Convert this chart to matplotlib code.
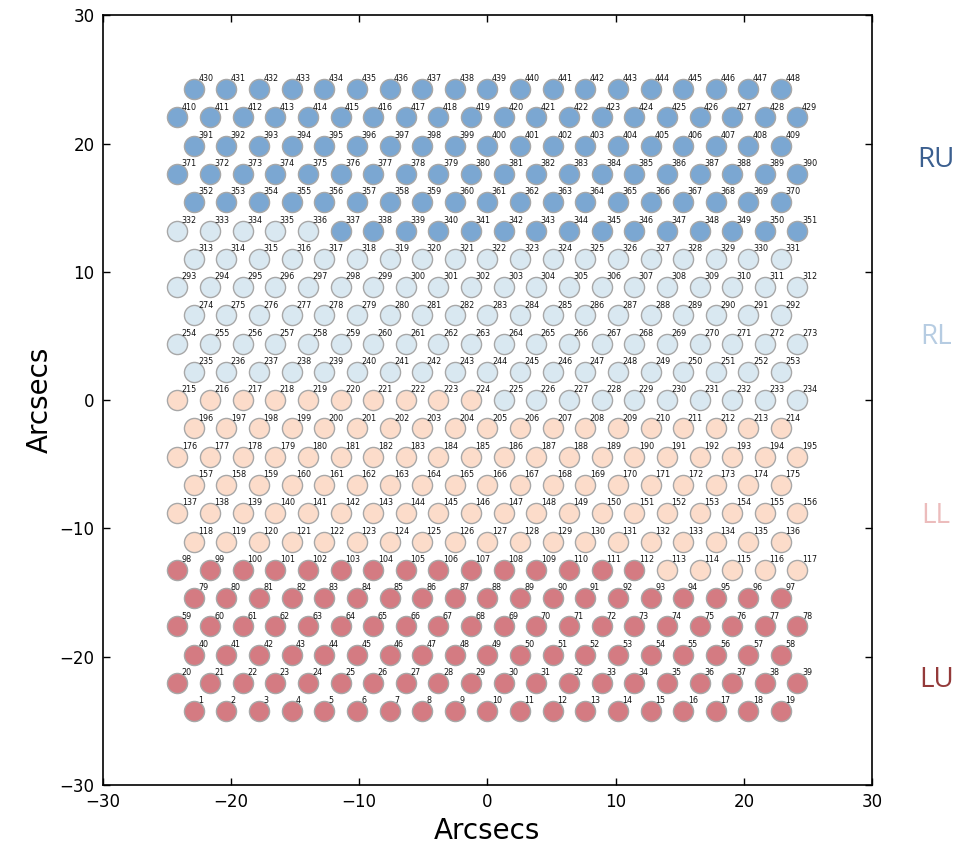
import matplotlib
matplotlib.use("Agg")
import matplotlib.pyplot as plt
import numpy as np

# fibre bundle layout: 23 rows, alternating 19 / 20 fibres, numbered from the bottom
row_counts = [19, 20] * 11 + [19]
pitch = 2.545  # arcsec between neighbouring fibres

# quadrant groups: (name, first fibre, last fibre, face colour, label colour, label y)
group_names = ["LU", "LL", "RL", "RU"]
group_first = [1, 113, 225, 337]
group_last = [112, 224, 336, 448]
group_face = ["#d47b82", "#fcdcca", "#d9e8f1", "#7ba7d2"]
group_label_color = ["#943a3a", "#ecbcbc", "#b6cce2", "#3b5f8f"]
group_label_y = [-21.8, -9.0, 4.9, 18.7]

# positions of every fibre
xs, ys = [], []
row_dy = pitch * np.sqrt(3) / 2
n_rows = len(row_counts)
for r, n in enumerate(row_counts):
    y = (r - (n_rows - 1) / 2) * row_dy
    for i in range(n):
        xs.append((i - (n - 1) / 2) * pitch)
        ys.append(y)
xs = np.array(xs)
ys = np.array(ys)
fibre_id = np.arange(1, len(xs) + 1)

fig = plt.figure(figsize=(9.69, 8.51), dpi=100)
ax = fig.add_axes([0.106, 0.0776, 0.794, 0.9044])

for name, lo, hi, face in zip(group_names, group_first, group_last, group_face):
    m = (fibre_id >= lo) & (fibre_id <= hi)
    ax.scatter(xs[m], ys[m], s=210, facecolor=face, edgecolor="#a8a8a8",
               linewidth=1.0, zorder=2)

for x, y, n in zip(xs, ys, fibre_id):
    ax.text(x + 0.35, y + 0.45, str(n), fontsize=5.8, ha="left", va="bottom",
            color="#111111", zorder=3)

for name, col, ly in zip(group_names, group_label_color, group_label_y):
    ax.text(35.0, ly, name, fontsize=20, color=col, ha="center", va="center",
            family=["Open Sans", "DejaVu Sans"], clip_on=False)

ax.set_xlim(-30, 30)
ax.set_ylim(-30, 30)
ax.set_xticks([-30, -20, -10, 0, 10, 20, 30])
ax.set_yticks([-30, -20, -10, 0, 10, 20, 30])
ax.tick_params(direction="in", top=True, right=True, length=5, width=1, labelsize=12, pad=6)
for sp in ax.spines.values():
    sp.set_linewidth(1.2)
ax.set_xlabel("Arcsecs", fontsize=20)
ax.set_ylabel("Arcsecs", fontsize=20)

fig.savefig("out.png", dpi=100)
